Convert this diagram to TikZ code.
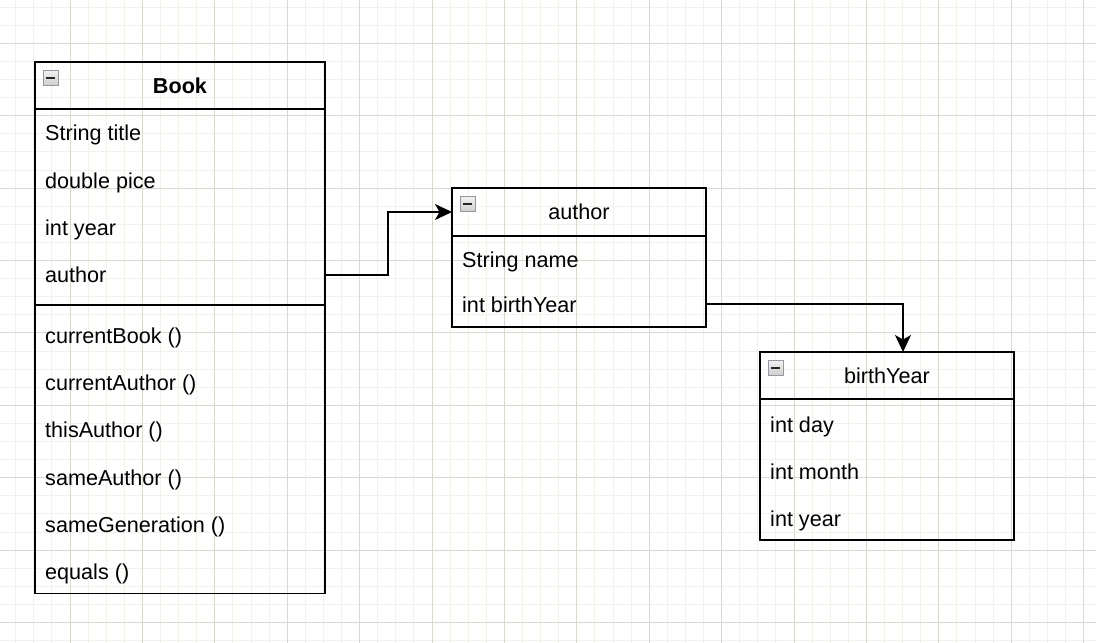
\documentclass[tikz,border=0pt]{standalone}
\usepackage{fontspec}
\setmainfont{Liberation Sans}
\usepackage{tikz}
\usetikzlibrary{arrows.meta}
\definecolor{gridmajor}{RGB}{218,216,207}
\definecolor{gridminor}{RGB}{242,241,236}
\definecolor{toggleedge}{RGB}{150,152,164}

\begin{document}
\begin{tikzpicture}[x=1pt, y=-1pt, font=\fontsize{21.6}{26}\selectfont]
    \tikzstyle{minorline} = [gridminor, line width=1pt]
    \tikzstyle{majorline} = [gridmajor, line width=1pt]
    \tikzstyle{classbox} = [rectangle, draw, line width=1.8pt, inner sep=0pt, outer sep=0pt, anchor=north west]
    \tikzstyle{classhead} = [classbox, minimum height=47pt, text height=15.5pt, text depth=0pt]
    \tikzstyle{attr} = [anchor=west, inner sep=0pt, text height=15.5pt, text depth=0pt]
    \tikzstyle{toggle} = [rectangle, draw=toggleedge, line width=1pt, top color=gray!10, bottom color=gray!38, minimum size=15pt, inner sep=0pt,
        path picture={\draw[black!85, line width=2pt] ([xshift=-4.5pt]path picture bounding box.center) -- ([xshift=4.5pt]path picture bounding box.center);}]
    \tikzstyle{conn} = [draw, line width=1.8pt, -{Stealth[length=17pt, width=16pt, inset=4.5pt]}]

    \useasboundingbox (0,0) rectangle (1096,643);

    % Grid
    \begin{scope}
        \clip (0,0) rectangle (1096,643);
        \foreach \i in {0,...,61} \draw[minorline] (-2.4+18.1*\i, 0) -- ++(0,643);
        \foreach \j in {0,...,36} \draw[minorline] (0, -11+18.1*\j) -- ++(1096,0);
        \foreach \i in {0,...,15} \draw[majorline] (-2.4+72.4*\i, 0) -- ++(0,643);
        \foreach \j in {0,...,9} \draw[majorline] (0, -29.1+72.4*\j) -- ++(1096,0);
    \end{scope}

    % Book
    \node[classbox, minimum width=290pt, minimum height=531.5pt] (bookBox) at (35,62) {};
    \node[classhead, minimum width=290pt] (bookHead) at (35,62) {\textbf{Book}};
    \node[toggle] (bookTog) at ([xshift=15.5pt, yshift=-15.5pt]bookHead.north west) {};
    \foreach \txt [count=\i] in {String title, double pice, int year, author}
        \node[attr] (b\i) at (45, 85.7+47.3*\i) {\txt};
    \draw[line width=1.8pt] (bookBox.west |- 0,305) -- (bookBox.east |- 0,305);
    \foreach \txt [count=\i] in {currentBook (), currentAuthor (), thisAuthor (), sameAuthor (), sameGeneration (), equals ()}
        \node[attr] (m\i) at (45, 288.2+47.3*\i) {\txt};

    % author
    \node[classbox, minimum width=254pt, minimum height=139pt] (authorBox) at (452,188) {};
    \node[classhead, minimum width=254pt, minimum height=48pt] (authorHead) at (452,188) {author};
    \node[toggle] (authorTog) at ([xshift=15.5pt, yshift=-15.5pt]authorHead.north west) {};
    \node[attr] (a1) at (462, 260) {String name};
    \node[attr] (a2) at (462, 304.3) {int birthYear};

    % birthYear
    \node[classbox, minimum width=254pt, minimum height=188pt] (yearBox) at (760,352) {};
    \node[classhead, minimum width=254pt] (yearHead) at (760,352) {birthYear};
    \node[toggle] (yearTog) at ([xshift=15.5pt, yshift=-15.5pt]yearHead.north west) {};
    \foreach \txt [count=\i] in {int day, int month, int year}
        \node[attr] (y\i) at (770, 377+47.3*\i) {\txt};

    % Links
    \draw[conn] (bookBox.east |- b4) -- ++(63,0) |- (authorHead.west);
    \draw[conn] (authorBox.east |- a2) -| ([xshift=16pt]yearHead.north);

\end{tikzpicture}
\end{document}
